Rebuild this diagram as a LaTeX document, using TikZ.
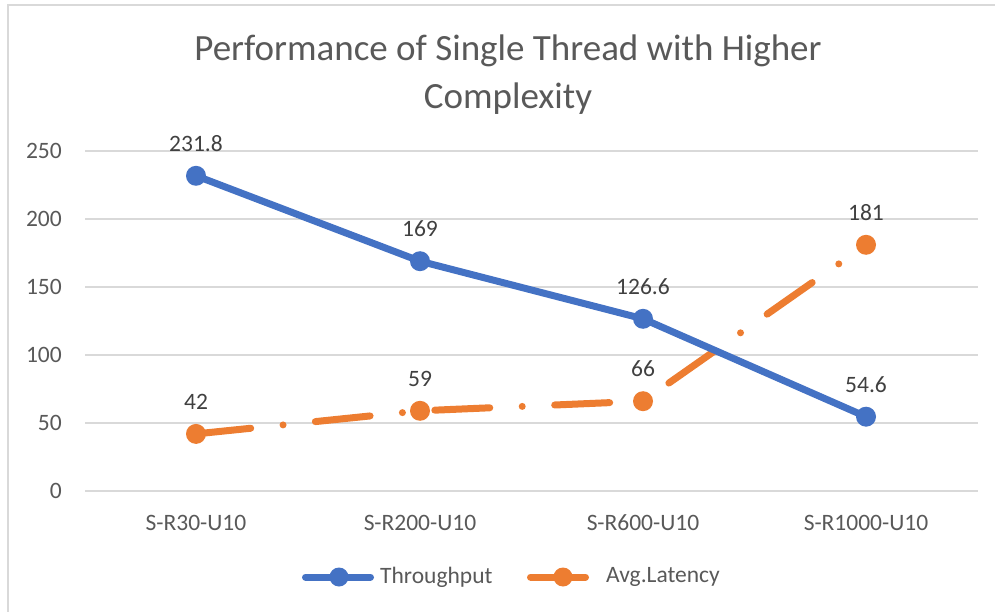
\documentclass[tikz,border=0pt]{standalone}
\usepackage{fontspec}
\setmainfont{Carlito}
\usetikzlibrary{positioning}
\definecolor{TputBlue}{HTML}{4472C4}
\definecolor{LatOrange}{HTML}{ED7D31}
\definecolor{GridGray}{HTML}{D9D9D9}
\definecolor{AxisText}{HTML}{595959}
\definecolor{LabelText}{HTML}{404040}
\tikzset{
  gridline/.style={draw=GridGray,line width=1.3pt},
  frame/.style={draw=GridGray,line width=1.3pt},
  tput/.style={draw=TputBlue,line width=7pt,line cap=round,line join=round},
  lat/.style={draw=LatOrange,line width=7pt,line cap=round,line join=round},
  latdash/.style={lat,dash pattern=on 55pt off 32.5pt on 0pt off 32.5pt},
  tdot/.style={circle,fill=TputBlue,inner sep=0pt,minimum size=20pt},
  ldot/.style={circle,fill=LatOrange,inner sep=0pt,minimum size=20pt},
}
\tikzset{tick/.style={font=\fontsize{23.5}{28}\selectfont,text=AxisText,inner sep=0pt},
  dlab/.style={font=\fontsize{23.5}{28}\selectfont,text=LabelText,inner sep=0pt,anchor=base,yshift=24.5pt},
  legtext/.style={font=\fontsize{23.5}{28}\selectfont,text=AxisText,inner sep=0pt,anchor=west}}

\begin{document}
\begin{tikzpicture}[x=1pt,y=1pt]
\useasboundingbox (0,0) rectangle (995,611);
% chart frame (runs off the right and bottom)
\draw[frame] (8,-5) -- (8,606) -- (1000,606);
% title
\node[font=\fontsize{37}{48}\selectfont,text=AxisText,align=center] (title) at (508,536)
  {Performance of Single Thread with Higher\\Complexity};
% grid
\draw[gridline] (85,120) -- (978,120);
\draw[gridline] (85,188) -- (978,188);
\draw[gridline] (85,256) -- (978,256);
\draw[gridline] (85,324) -- (978,324);
\draw[gridline] (85,392) -- (978,392);
\draw[gridline] (85,460) -- (978,460);
\node[tick,anchor=east] (y0) at (62,120) {0};
\node[tick,anchor=east] (y50) at (62,188) {50};
\node[tick,anchor=east] (y100) at (62,256) {100};
\node[tick,anchor=east] (y150) at (62,324) {150};
\node[tick,anchor=east] (y200) at (62,392) {200};
\node[tick,anchor=east] (y250) at (62,460) {250};
\node[tick] (c1) at (196,88) {S-R30-U10};
\node[tick] (c2) at (420,88) {S-R200-U10};
\node[tick] (c3) at (643,88) {S-R600-U10};
\node[tick] (c4) at (866,88) {S-R1000-U10};
% data points
\coordinate (t1) at (196,435.2);
\coordinate (t2) at (420,349.8);
\coordinate (t3) at (643,292.2);
\coordinate (t4) at (866,194.3);
\coordinate (l1) at (196,177.1);
\coordinate (l2) at (420,200.2);
\coordinate (l3) at (643,209.8);
\coordinate (l4) at (866,366.2);
\draw[latdash] (l1) -- (l2) -- (l3) -- (l4);
\draw[tput] (t1) -- (t2) -- (t3) -- (t4);
\node[tdot] (tm1) at (t1) {};
\node[tdot] (tm2) at (t2) {};
\node[tdot] (tm3) at (t3) {};
\node[tdot] (tm4) at (t4) {};
\node[ldot] (lm1) at (l1) {};
\node[ldot] (lm2) at (l2) {};
\node[ldot] (lm3) at (l3) {};
\node[ldot] (lm4) at (l4) {};
\node[dlab] (tv1) at (t1) {231.8};
\node[dlab] (tv2) at (t2) {169};
\node[dlab] (tv3) at (t3) {126.6};
\node[dlab] (tv4) at (t4) {54.6};
\node[dlab] (lv1) at (l1) {42};
\node[dlab] (lv2) at (l2) {59};
\node[dlab] (lv3) at (l3) {66};
\node[dlab] (lv4) at (l4) {181};
% legend
\coordinate (ta) at (305.5,34);
\coordinate (tb) at (370.5,34);
\draw[tput] (ta) -- (tb);
\node[tdot,minimum size=19pt] (tleg) at (339,34) {};
\node[legtext] (tname) at (380,34) {Throughput};
\coordinate (la) at (530.5,34);
\coordinate (lb) at (585.5,34);
\draw[lat] (la) -- (lb);
\node[ldot,minimum size=19pt] (lleg) at (563,34) {};
\node[legtext] (lname) at (606,34) {Avg.Latency};
\end{tikzpicture}
\end{document}
